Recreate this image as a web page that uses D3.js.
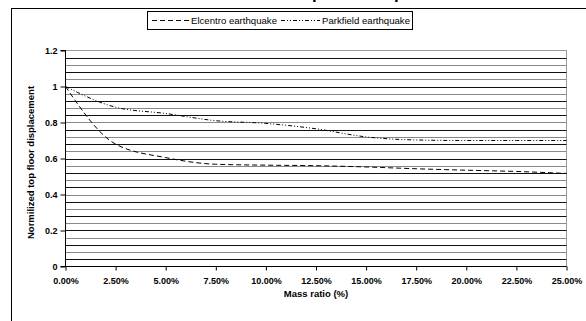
<!DOCTYPE html>
<html><head><meta charset="utf-8">
<script src="https://cdn.jsdelivr.net/npm/d3@7"></script>
<style>body{margin:0;background:#fff}svg{display:block}text{font-family:Arial,"Liberation Sans",sans-serif}</style>
</head><body>
<svg id="c" width="586" height="321"></svg>
<script>
const massRatio = [0, 2.5, 5, 7.5, 10, 12.5, 15, 17.5, 20, 22.5, 25];
const elcentro = [1.0, 0.68, 0.605, 0.568, 0.563, 0.56, 0.553, 0.543, 0.535, 0.528, 0.517];
const parkfield = [1.0, 0.885, 0.85, 0.81, 0.795, 0.765, 0.72, 0.703, 0.70, 0.70, 0.70];
const xTicks = [0, 2.5, 5, 7.5, 10, 12.5, 15, 17.5, 20, 22.5, 25];
const yTicks = [0, 0.2, 0.4, 0.6, 0.8, 1, 1.2];
const seriesNames = ["Elcentro earthquake", "Parkfield earthquake"];

const svg = d3.select("#c");
const L = 65.5, R = 566.5, T = 50.5, B = 266.5;
const x = d3.scaleLinear().domain([0, 25]).range([L, R]);
const y = d3.scaleLinear().domain([0, 1.2]).range([B, T]);

// outer chart border
svg.append("rect").attr("x", 11.5).attr("y", 8.5).attr("width", 590).attr("height", 330)
  .attr("fill", "none").attr("stroke", "#000").attr("stroke-width", 1);

// title (mostly above the visible frame, as in the reference)
svg.append("text").attr("x", 293).attr("y", -1).attr("text-anchor", "middle")
  .attr("font-size", 17).attr("font-weight", "bold")
  .text("Effect of mass ratio on top floor displacement");

// plot frame
svg.append("rect").attr("x", L).attr("y", T).attr("width", R - L).attr("height", B - T)
  .attr("fill", "#fff").attr("stroke", "#999").attr("stroke-width", 1);

// gridlines
const grid = d3.range(1, 30).map(i => i * 0.04);
svg.append("g").selectAll("line").data(grid).join("line")
  .attr("x1", L).attr("x2", R)
  .attr("y1", d => Math.round(y(d)) + 0.5).attr("y2", d => Math.round(y(d)) + 0.5)
  .attr("stroke", (d, i) => i % 2 === 0 ? "#111" : "#888").attr("stroke-width", 1);

// axes
const yAxis = d3.axisLeft(y).tickValues(yTicks).tickSize(5).tickPadding(3).tickFormat(d => d3.format("")(d));
const gy = svg.append("g").attr("transform", `translate(${L},0)`).call(yAxis);
gy.select(".domain").attr("stroke", "#000").attr("d", `M-5,${B}H0V${T}H-5`);
gy.selectAll("text").attr("font-size", 9).attr("font-weight", "bold").attr("fill", "#000");

const xAxis = d3.axisBottom(x).tickValues(xTicks).tickSize(4).tickPadding(7).tickFormat(d => d.toFixed(2) + "%");
const gx = svg.append("g").attr("transform", `translate(0,${B})`).call(xAxis);
gx.select(".domain").attr("stroke", "#000").attr("d", `M${L},0H${R}`);
gx.selectAll("text").attr("font-size", 9).attr("font-weight", "bold").attr("fill", "#000");

// axis labels
svg.append("text").attr("x", 316).attr("y", 297).attr("text-anchor", "middle")
  .attr("font-size", 9.5).attr("font-weight", "bold").text("Mass ratio (%)");
svg.append("text").attr("transform", `translate(34,${(T + B) / 2 + 4}) rotate(-90)`)
  .attr("text-anchor", "middle").attr("font-size", 9.5).attr("font-weight", "bold")
  .text("Normilized top floor displacement");

// lines
const line = d3.line().x(d => x(d[0])).y(d => y(d[1])).curve(d3.curveMonotoneX);
const dashes = ["5,3", "4,2,1,2,1,2"];
[elcentro, parkfield].forEach((s, k) => {
  svg.append("path").datum(massRatio.map((m, i) => [m, s[i]]))
    .attr("d", line).attr("fill", "none").attr("stroke", "#000").attr("stroke-width", 1)
    .attr("stroke-dasharray", dashes[k]);
});

// legend
const lg = svg.append("g");
lg.append("rect").attr("x", 147.5).attr("y", 11.5).attr("width", 265).attr("height", 18)
  .attr("fill", "#fff").attr("stroke", "#000");
const items = [{x0: 152, x1: 189, tx: 191}, {x0: 281, x1: 320, tx: 322}];
items.forEach((it, k) => {
  lg.append("line").attr("x1", it.x0).attr("x2", it.x1).attr("y1", 20.5).attr("y2", 20.5)
    .attr("stroke", "#000").attr("stroke-dasharray", dashes[k]);
  lg.append("text").attr("x", it.tx).attr("y", 24).attr("font-size", 9.3)
    .attr("textLength", k === 0 ? 86 : 88).attr("lengthAdjust", "spacingAndGlyphs")
    .text(seriesNames[k]);
});
</script>
</body></html>
